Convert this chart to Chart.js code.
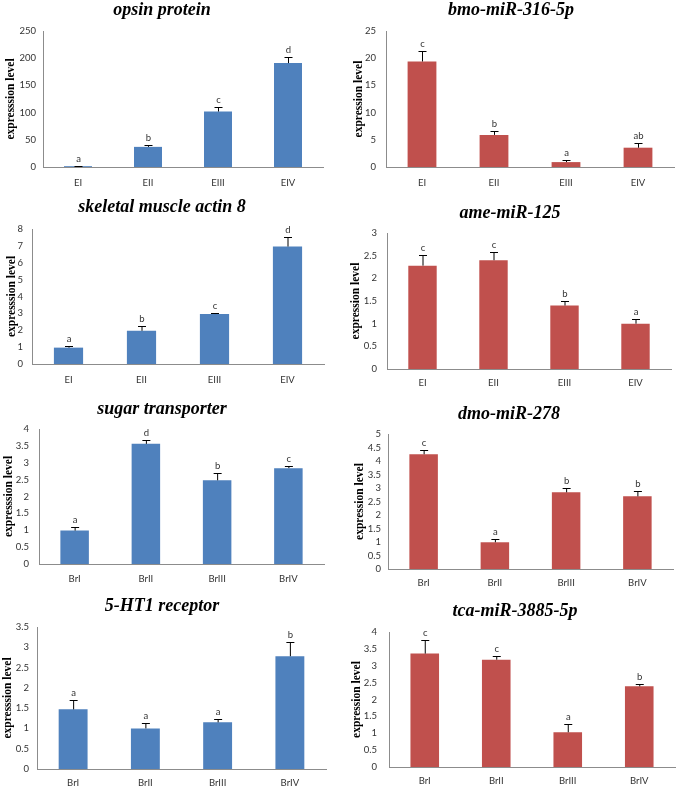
<!DOCTYPE html>
<html>
<head>
<meta charset="utf-8">
<script src="https://cdn.jsdelivr.net/npm/chart.js@4.4.1/dist/chart.umd.min.js"></script>
<style>
  html, body { margin: 0; padding: 0; background: #fff; }
  #fig { position: relative; width: 677px; height: 787px; overflow: hidden; }
  .panel { position: absolute; }
</style>
</head>
<body>
<div id="fig"></div>
<script>
// stage labels
const E_STAGES = ["EI", "EII", "EIII", "EIV"];
const BR_STAGES = ["BrI", "BrII", "BrIII", "BrIV"];

// mean expression, error (SD) and significance letters
const opsinMean = [1.5, 37, 102, 191];
const opsinErr = [0.5, 4, 9, 11];
const opsinLetters = ["a", "b", "c", "d"];

const bmoMean = [19.4, 5.9, 0.9, 3.55];
const bmoErr = [2.0, 0.7, 0.3, 0.85];
const bmoLetters = ["c", "b", "a", "ab"];

const actinMean = [0.97, 1.97, 2.96, 6.96];
const actinErr = [0.09, 0.28, 0.07, 0.55];
const actinLetters = ["a", "b", "c", "d"];

const ameMean = [2.28, 2.40, 1.40, 1.0];
const ameErr = [0.24, 0.17, 0.11, 0.1];
const ameLetters = ["c", "c", "b", "a"];

const sugarMean = [0.99, 3.56, 2.48, 2.84];
const sugarErr = [0.1, 0.1, 0.21, 0.05];
const sugarLetters = ["a", "d", "b", "c"];

const dmoMean = [4.25, 0.99, 2.84, 2.69];
const dmoErr = [0.16, 0.11, 0.15, 0.2];
const dmoLetters = ["c", "a", "b", "b"];

const htMean = [1.47, 1.0, 1.15, 2.78];
const htErr = [0.22, 0.14, 0.09, 0.35];
const htLetters = ["a", "a", "a", "b"];

const tcaMean = [3.36, 3.18, 1.03, 2.39];
const tcaErr = [0.39, 0.11, 0.25, 0.06];
const tcaLetters = ["c", "c", "a", "b"];

const BLUE = "#4f81bd";
const RED = "#c0504d";
const TICK_FONT = { family: "Lato, 'Open Sans', sans-serif", size: 9.5 };

// error bars + letters above each bar
const errorBarPlugin = {
  id: "errorBars",
  afterDatasetsDraw(chart) {
    const ds = chart.data.datasets[0];
    const meta = chart.getDatasetMeta(0);
    const y = chart.scales.y;
    const ctx = chart.ctx;
    ctx.save();
    meta.data.forEach(function (bar, i) {
      const topPx = Math.round(y.getPixelForValue(ds.data[i] + ds.errors[i]));
      ctx.strokeStyle = "#000";
      ctx.lineWidth = 1;
      ctx.beginPath();
      ctx.moveTo(bar.x + 0.5, bar.y);
      ctx.lineTo(bar.x + 0.5, topPx);
      ctx.moveTo(bar.x - 3.5, topPx + 0.5);
      ctx.lineTo(bar.x + 4.5, topPx + 0.5);
      ctx.stroke();
      ctx.fillStyle = "#333";
      ctx.font = "9.5px Lato, 'Open Sans', sans-serif";
      ctx.textAlign = "center";
      ctx.textBaseline = "bottom";
      ctx.fillText(ds.letters[i], bar.x + 0.5, topPx - 2);
    });
    ctx.restore();
  },
};

// italic gene / miRNA name over each panel
const panelTitlePlugin = {
  id: "panelTitle",
  afterDraw(chart, args, opts) {
    const ctx = chart.ctx;
    ctx.save();
    ctx.fillStyle = "#000";
    ctx.font = "italic bold 18px 'Liberation Serif', serif";
    ctx.textAlign = "center";
    ctx.textBaseline = "middle";
    ctx.fillText(opts.text, opts.x, opts.y);
    ctx.restore();
  },
};

function makePanel(p) {
  const div = document.createElement("div");
  div.className = "panel";
  div.style.left = p.box[0] + "px";
  div.style.top = p.box[1] + "px";
  div.style.width = p.box[2] + "px";
  div.style.height = p.box[3] + "px";
  const canvas = document.createElement("canvas");
  div.appendChild(canvas);
  document.getElementById("fig").appendChild(div);

  const left = p.area[0] - p.box[0];
  const top = p.area[1] - p.box[1];
  const rightPad = p.box[0] + p.box[2] - p.area[2];
  const bottom = p.box[1] + p.box[3] - p.area[3];

  new Chart(canvas, {
    type: "bar",
    data: {
      labels: p.labels,
      datasets: [
        {
          data: p.mean,
          errors: p.err,
          letters: p.letters,
          backgroundColor: p.color,
          borderWidth: 0,
          barPercentage: 0.4,
          categoryPercentage: 1,
        },
      ],
    },
    options: {
      responsive: true,
      maintainAspectRatio: false,
      animation: false,
      layout: { padding: { top: top, right: rightPad, bottom: 0, left: 0 } },
      plugins: {
        legend: { display: false },
        tooltip: { enabled: false },
        panelTitle: { text: p.title, x: p.titleAt[0] - p.box[0], y: p.titleAt[1] - p.box[1] },
      },
      scales: {
        x: {
          grid: { display: false, drawTicks: false },
          border: { display: true, color: "#8c8c8c", width: 1 },
          ticks: { color: "#333", font: TICK_FONT, padding: p.labelGap, maxRotation: 0 },
          afterFit(scale) { scale.height = bottom; },
        },
        y: {
          min: 0,
          max: p.max,
          grid: { display: false, drawTicks: true, tickLength: 4, tickColor: "#8c8c8c" },
          border: { display: true, color: "#8c8c8c", width: 1 },
          ticks: {
            stepSize: p.step,
            autoSkip: false,
            color: "#333",
            font: TICK_FONT,
            padding: p.tickGap - 4,
            callback: function (v) { return String(v); },
          },
          title: {
            display: true,
            text: p.ylabel,
            color: "#000",
            font: { family: "'Liberation Serif', serif", size: 11.5, weight: "bold" },
            padding: { top: p.ylabelX - p.box[0] - 7, bottom: 0 },
          },
          afterFit(scale) { scale.width = left; },
        },
      },
    },
    plugins: [errorBarPlugin, panelTitlePlugin],
  });
}

const LEFT_Y = "expresssion level";
const RIGHT_Y = "expression level";

[
  { title: "opsin protein", labels: E_STAGES, mean: opsinMean, err: opsinErr, letters: opsinLetters,
    color: BLUE, max: 250, step: 50, ylabel: LEFT_Y, tickGap: 7, labelGap: 10,
    box: [0, 0, 338, 200], area: [43, 31, 323, 167], titleAt: [162, 10], ylabelX: 11 },
  { title: "bmo-miR-316-5p", labels: E_STAGES, mean: bmoMean, err: bmoErr, letters: bmoLetters,
    color: RED, max: 25, step: 5, ylabel: RIGHT_Y, tickGap: 10, labelGap: 10,
    box: [338, 0, 339, 200], area: [386, 31, 674, 167], titleAt: [511, 10], ylabelX: 359 },
  { title: "skeletal muscle actin 8", labels: E_STAGES, mean: actinMean, err: actinErr, letters: actinLetters,
    color: BLUE, max: 8, step: 1, ylabel: LEFT_Y, tickGap: 9, labelGap: 10,
    box: [0, 190, 338, 210], area: [32, 229, 324, 364], titleAt: [162, 207], ylabelX: 12 },
  { title: "ame-miR-125", labels: E_STAGES, mean: ameMean, err: ameErr, letters: ameLetters,
    color: RED, max: 3, step: 0.5, ylabel: RIGHT_Y, tickGap: 10, labelGap: 8,
    box: [338, 190, 339, 210], area: [387, 233, 671, 369], titleAt: [510, 213], ylabelX: 356 },
  { title: "sugar transporter", labels: BR_STAGES, mean: sugarMean, err: sugarErr, letters: sugarLetters,
    color: BLUE, max: 4, step: 0.5, ylabel: LEFT_Y, tickGap: 10, labelGap: 9,
    box: [0, 390, 338, 210], area: [39, 429, 324, 564], titleAt: [162, 409], ylabelX: 9 },
  { title: "dmo-miR-278", labels: BR_STAGES, mean: dmoMean, err: dmoErr, letters: dmoLetters,
    color: RED, max: 5, step: 0.5, ylabel: RIGHT_Y, tickGap: 7, labelGap: 8,
    box: [338, 390, 339, 210], area: [388, 434, 673, 569], titleAt: [509, 414], ylabelX: 360 },
  { title: "5-HT1 receptor", labels: BR_STAGES, mean: htMean, err: htErr, letters: htLetters,
    color: BLUE, max: 3.5, step: 0.5, ylabel: LEFT_Y, tickGap: 8, labelGap: 8,
    box: [0, 585, 338, 202], area: [37, 627, 326, 769], titleAt: [162, 606], ylabelX: 8 },
  { title: "tca-miR-3885-5p", labels: BR_STAGES, mean: tcaMean, err: tcaErr, letters: tcaLetters,
    color: RED, max: 4, step: 0.5, ylabel: RIGHT_Y, tickGap: 12, labelGap: 8,
    box: [338, 585, 339, 202], area: [389, 632, 675, 767], titleAt: [515, 611], ylabelX: 357 },
].forEach(makePanel);
</script>
</body>
</html>
